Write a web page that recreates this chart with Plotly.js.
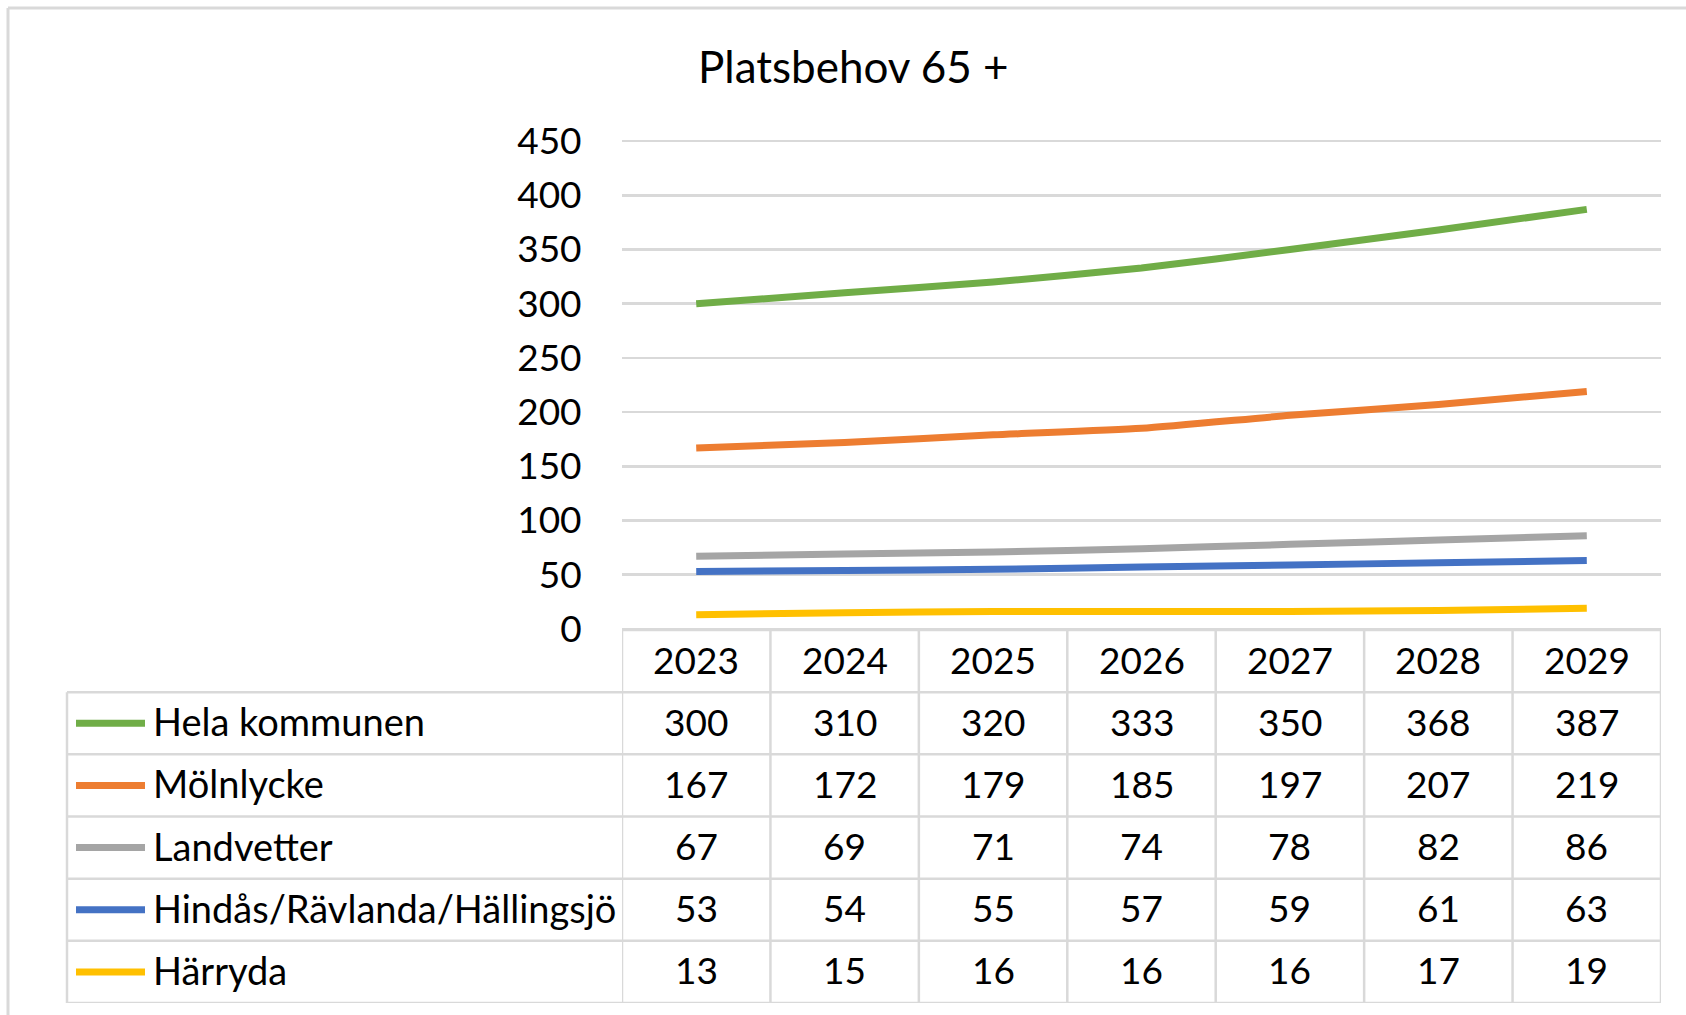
<!DOCTYPE html>
<html>
<head>
<meta charset="utf-8">
<script src="https://cdn.plot.ly/plotly-3.0.1.min.js"></script>
<style>
html,body{margin:0;padding:0;background:#fff;}
#chart{width:1686px;height:1015px;}
</style>
</head>
<body>
<div id="chart"></div>
<script>
const years = ['2023','2024','2025','2026','2027','2028','2029'];
const seriesNames = ['Hela kommunen','Mölnlycke','Landvetter','Hindås/Rävlanda/Hällingsjö','Härryda'];
const helaKommunen = [300,310,320,333,350,368,387];
const molnlycke   = [167,172,179,185,197,207,219];
const landvetter  = [67,69,71,74,78,82,86];
const hindas      = [53,54,55,57,59,61,63];
const harryda     = [13,15,16,16,16,17,19];
const seriesValues = [helaKommunen, molnlycke, landvetter, hindas, harryda];
const seriesColors = ['#70AD47','#ED7D31','#A5A5A5','#4472C4','#FFC000'];
const yTicks = [0,50,100,150,200,250,300,350,400,450];

const W = 1686, H = 1015;
const px = v => v / W;
const py = v => 1 - v / H;

const FONT = 'Lato, "Open Sans", sans-serif';
const FS = 37;
const NAME_FS = 38;
const GRID = '#D9D9D9';

// Plot area and table geometry (pixels)
const plotL = 622, plotR = 1661, plotT = 140, plotB = 630;
const tableB = 1003, tableL = 67;
const nRows = seriesNames.length + 1;

const traces = seriesNames.map((name, i) => ({
  type: 'scatter', mode: 'lines', name: name,
  x: years, y: seriesValues[i],
  line: {color: seriesColors[i], width: 7, shape: 'spline', smoothing: 0.6},
  xaxis: 'x', yaxis: 'y', hoverinfo: 'x+y+name'
}));
// invisible trace to activate table axis
traces.push({type:'scatter', mode:'markers', x: years, y: years.map(()=>0.5),
  xaxis:'x', yaxis:'y2', marker:{opacity:0}, hoverinfo:'skip', showlegend:false});

const annotations = [];
const shapes = [];

// Title
annotations.push({text:'Platsbehov 65 +', xref:'paper', yref:'paper', x:px(853), y:py(66),
  xanchor:'center', yanchor:'middle', showarrow:false, font:{family:FONT, size:44, color:'#000'}});

// Year header row
years.forEach((yr, j) => annotations.push({text: yr, xref:'x', yref:'y2', x: j, y: 0.5, yshift: 2,
  showarrow:false, xanchor:'center', yanchor:'middle', font:{family:FONT, size:FS, color:'#000'}}));

// Data cells + names
seriesNames.forEach((name, i) => {
  const r = i + 1.5;
  seriesValues[i].forEach((v, j) => annotations.push({text: String(v), xref:'x', yref:'y2',
    x: j, y: r, yshift: 2, showarrow:false, xanchor:'center', yanchor:'middle',
    font:{family:FONT, size:FS, color:'#000'}}));
  annotations.push({text: name, xref:'paper', yref:'y2', x: px(151), y: r, yshift: 2, showarrow:false,
    xanchor:'left', yanchor:'middle', font:{family:FONT, size:NAME_FS, color:'#000'}});
  shapes.push({type:'line', xref:'paper', yref:'y2', x0: px(76), x1: px(145), y0: r, y1: r,
    line:{color: seriesColors[i], width: 7}});
});

// Table grid: horizontal lines
for (let k = 0; k <= nRows; k++) {
  shapes.push({type:'line', xref:'paper', yref:'y2',
    x0: k === 0 ? px(plotL) : px(tableL), x1: px(plotR), y0: k, y1: k,
    line:{color: GRID, width: 2.5}, layer:'below'});
}
// vertical lines at category boundaries
for (let j = 0; j <= years.length; j++) {
  shapes.push({type:'line', xref:'x', yref:'y2', x0: j - 0.5, x1: j - 0.5, y0: 0, y1: nRows,
    line:{color: GRID, width: 2.5}, layer:'below'});
}
// left edge of name column
shapes.push({type:'line', xref:'paper', yref:'y2', x0: px(tableL), x1: px(tableL), y0: 1, y1: nRows,
  line:{color: GRID, width: 2.5}, layer:'below'});

// Outer chart border (top & left visible)
shapes.push({type:'line', xref:'paper', yref:'paper', x0: px(8), x1: 1.01, y0: py(8), y1: py(8),
  line:{color:'#D9D9D9', width:3}});
shapes.push({type:'line', xref:'paper', yref:'paper', x0: px(8), x1: px(8), y0: py(8), y1: -0.01,
  line:{color:'#D9D9D9', width:3}});

const layout = {
  width: W, height: H,
  margin: {l:0, r:0, t:0, b:0, pad:0},
  paper_bgcolor:'#fff', plot_bgcolor:'rgba(0,0,0,0)',
  showlegend: false,
  font: {family: FONT, size: FS, color:'#000'},
  xaxis: {domain:[px(plotL), px(plotR)], type:'category', range:[-0.5, years.length - 0.5],
    showticklabels:false, showgrid:false, zeroline:false, showline:false, ticks:'', fixedrange:true},
  yaxis: {domain:[py(plotB), py(plotT)], range:[-1, 451], tickvals: yTicks,
    ticktext: yTicks.map(String), showgrid:true, gridcolor: GRID, gridwidth: 2.5,
    zeroline:false, showline:false, ticks:'outside', ticklen: 32, tickcolor:'rgba(0,0,0,0)',
    tickfont:{family:FONT, size:FS, color:'#000'}, fixedrange:true},
  yaxis2: {domain:[py(tableB), py(plotB)], range:[nRows, 0], anchor:'x',
    showticklabels:false, showgrid:false, zeroline:false, showline:false, ticks:'', fixedrange:true},
  annotations: annotations,
  shapes: shapes
};

Plotly.newPlot('chart', traces, layout, {displayModeBar:false, staticPlot:true});
</script>
</body>
</html>
